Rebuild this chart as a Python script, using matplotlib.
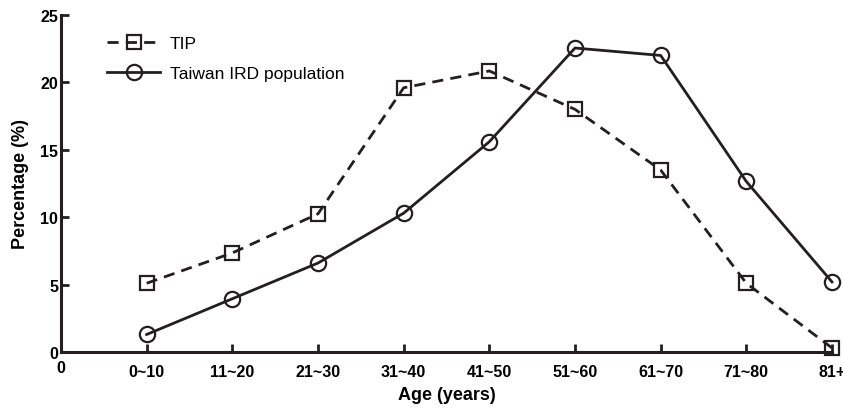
import matplotlib
matplotlib.use("Agg")
import matplotlib.pyplot as plt
import matplotlib.transforms as mtransforms

categories = ["0~10", "11~20", "21~30", "31~40", "41~50", "51~60", "61~70", "71~80", "81+"]
tip = [5.1, 7.35, 10.25, 19.6, 20.85, 18.0, 13.5, 5.1, 0.3]
ird = [1.3, 3.95, 6.6, 10.3, 15.6, 22.55, 22.0, 12.65, 5.2]
yticks = [0, 5, 10, 15, 20, 25]

plt.rcParams['font.family'] = ['Liberation Sans', 'DejaVu Sans']

fig = plt.figure(figsize=(8.43, 4.10), dpi=100)
ax = fig.add_axes([61/843, 1-353/410, (832-61)/843, (353-16)/410])

x = list(range(1, len(categories) + 1))
ax.plot(x, tip, linestyle=(0, (4, 2.6)), color='#231f20', lw=2.0, marker='s',
        markersize=10, fillstyle='none', markeredgewidth=1.6, label='TIP', clip_on=False)
ax.plot(x, ird, linestyle='-', color='#231f20', lw=2.0, marker='o',
        markersize=11, fillstyle='none', markeredgewidth=1.6,
        label='Taiwan IRD population', clip_on=False)

ax.set_xlim(0, 9)
ax.set_ylim(0, 25)
ax.set_xticks([0] + x)
ax.set_xticklabels(["0"] + categories, fontweight='bold', fontsize=11.5)
ax.set_yticks(yticks)
ax.set_yticklabels([str(v) for v in yticks], fontweight='bold', fontsize=11.5)
ax.tick_params(axis='both', direction='in', length=6, width=2, color='#231f20')
ax.tick_params(axis='x', pad=9)
ax.tick_params(axis='y', pad=2)
ax.xaxis.get_major_ticks()[0].tick1line.set_visible(False)
zero_lbl = ax.get_xticklabels()[0]
zero_lbl.set_transform(zero_lbl.get_transform() +
                       mtransforms.ScaledTranslation(0, 4/100, fig.dpi_scale_trans))

for s in ['top', 'right']:
    ax.spines[s].set_visible(False)
for s in ['left', 'bottom']:
    ax.spines[s].set_linewidth(2.2)
    ax.spines[s].set_color('#231f20')

ax.set_xlabel("Age (years)", fontweight='bold', fontsize=13, labelpad=5)
ax.set_ylabel("Percentage (%)", fontweight='bold', fontsize=13, labelpad=8)

leg = ax.legend(loc='upper left', bbox_to_anchor=(0.04, 0.985), frameon=False,
                fontsize=12.5, handlelength=3.0, labelspacing=0.85, handletextpad=0.6)

fig.savefig("out.png", dpi=100)
